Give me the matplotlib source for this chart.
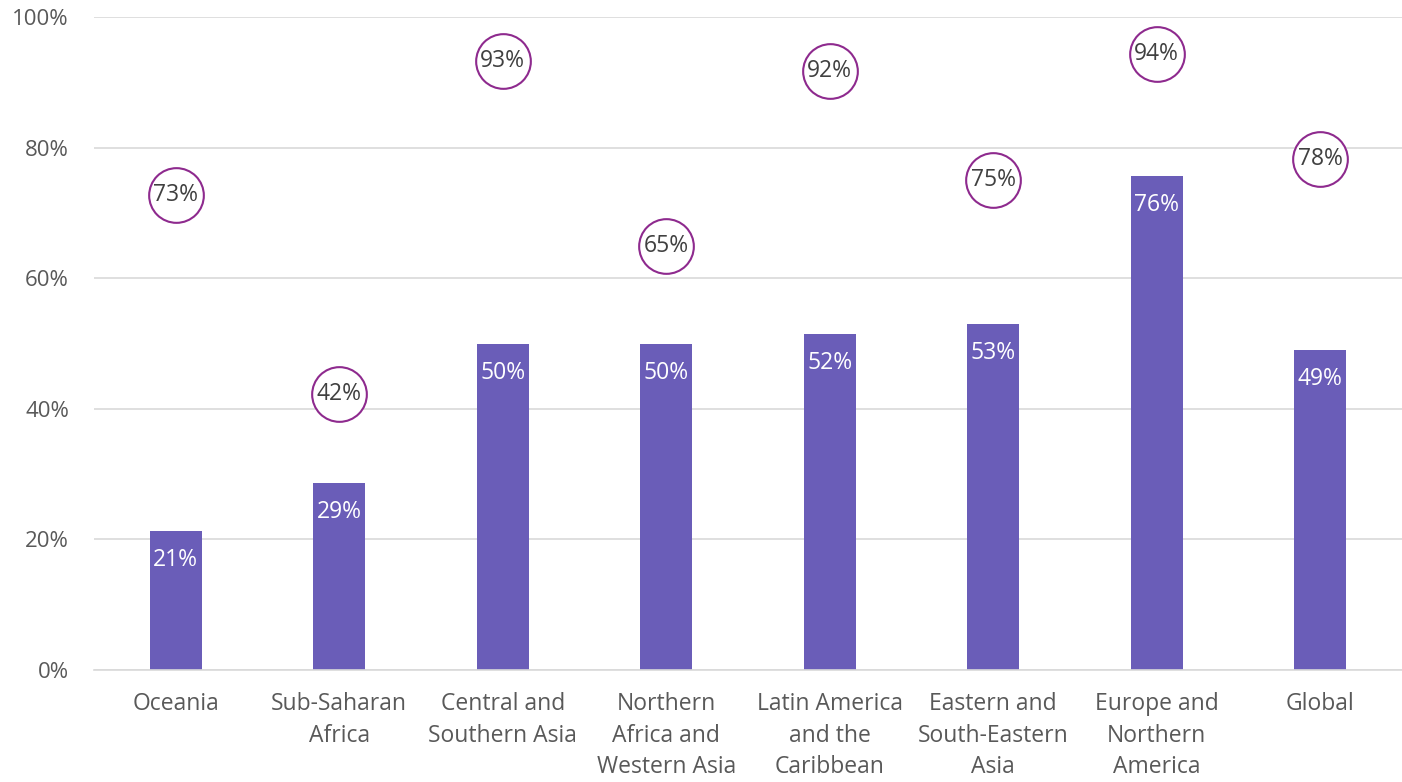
import numpy as np
import matplotlib.pyplot as plt
from matplotlib.ticker import PercentFormatter

regions = ["Oceania", "Sub-Saharan\nAfrica", "Central and\nSouthern Asia",
           "Northern\nAfrica and\nWestern Asia", "Latin America\nand the\nCaribbean",
           "Eastern and\nSouth-Eastern\nAsia", "Europe and\nNorthern\nAmerica", "Global"]
bar_vals = [21.3, 28.6, 50.0, 50.0, 51.5, 53.0, 75.6, 49.0]
bar_labels = ["21%", "29%", "50%", "50%", "52%", "53%", "76%", "49%"]
circle_vals = [72.8, 42.2, 93.2, 65.0, 91.7, 75.0, 94.4, 78.2]
circle_labels = ["73%", "42%", "93%", "65%", "92%", "75%", "94%", "78%"]

plt.rcParams['font.family'] = ['Open Sans', 'DejaVu Sans']

fig = plt.figure(figsize=(14.02, 7.82), dpi=100)
ax = fig.add_axes([94/1402, 112/782, 1308/1402, 653/782])

x = np.arange(len(regions))
ax.bar(x, bar_vals, width=0.32, color="#6A5DB8", zorder=2)
for xi, v, lab in zip(x, bar_vals, bar_labels):
    ax.annotate(lab, (xi, v), xytext=(0, -21), textcoords="offset points",
                ha="center", va="center", color="white", fontsize=16.5)

ax.scatter(x, circle_vals, s=1550, facecolor="white", edgecolor="#8E2A8E",
           linewidth=1.5, zorder=3)
for xi, v, lab in zip(x, circle_vals, circle_labels):
    ax.text(xi, v, lab, ha="center", va="center", color="#404040",
            fontsize=16.5, zorder=4)

ax.set_xlim(-0.5, len(regions) - 0.5)
ax.set_ylim(0, 100)
ax.set_yticks(np.arange(0, 101, 20))
ax.yaxis.set_major_formatter(PercentFormatter(decimals=0))
ax.set_xticks(x)
ax.set_xticklabels(regions, fontsize=16.5, color="#595959", linespacing=1.42)
ax.tick_params(axis="y", labelsize=16, labelcolor="#595959", length=0, pad=18)
ax.tick_params(axis="x", length=0, pad=16)
ax.grid(axis="y", color="#D9D9D9", linewidth=1.2, zorder=0)
ax.set_axisbelow(True)
for s in ["top", "right", "left"]:
    ax.spines[s].set_visible(False)
ax.spines["bottom"].set_color("#D9D9D9")
ax.spines["bottom"].set_linewidth(1.2)

fig.savefig("out.png", dpi=100)
